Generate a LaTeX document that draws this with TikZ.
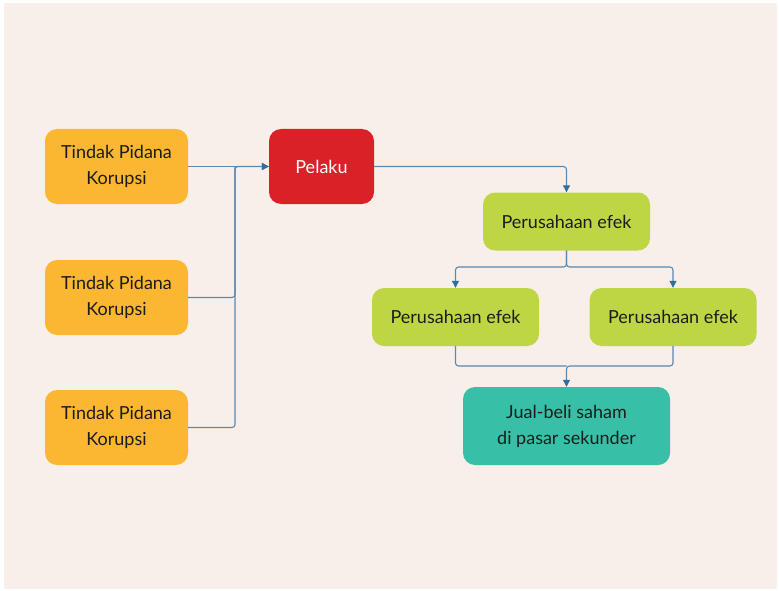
\documentclass[tikz,border=0pt]{standalone}
\usepackage{fontspec}
\setmainfont{Lato}
\usetikzlibrary{arrows.meta}
\definecolor{pagebg}{HTML}{F9EFEA}
\definecolor{boxorange}{HTML}{FBB731}
\definecolor{boxred}{HTML}{DA2128}
\definecolor{boxgreen}{HTML}{BED644}
\definecolor{boxteal}{HTML}{37BFA7}
\definecolor{linkblue}{HTML}{5B88AD}
\definecolor{tipblue}{HTML}{2F6E9E}
\definecolor{txt}{HTML}{1C1C1C}
\tikzset{
  box/.style={rectangle, rounded corners=12pt, align=center, text=txt,
    font=\fontsize{18}{26}\selectfont, inner sep=0pt},
  crime/.style={box, fill=boxorange, minimum width=143pt, minimum height=75pt},
  actor/.style={box, fill=boxred, text=white, minimum width=105pt, minimum height=75pt},
  firm/.style={box, fill=boxgreen, minimum width=167pt, minimum height=58pt},
  market/.style={box, fill=boxteal, minimum width=207pt, minimum height=78pt},
  link/.style={draw=linkblue, line width=1.1pt, rounded corners=3pt},
  arrowlink/.style={link, -{Triangle[length=7pt,width=7pt,fill=tipblue,color=tipblue]}}
}
\begin{document}
\begin{tikzpicture}[x=1pt,y=-1pt]
\useasboundingbox (0,0) rectangle (779,591);
\fill[white] (0,0) rectangle (779,591);
\fill[pagebg] (4,3) rectangle (777,589);

% left column: offences
\node[crime] (t1) at (116.5,166.5) {Tindak Pidana\\Korupsi};
\node[crime] (t2) at (116.5,297.5) {Tindak Pidana\\Korupsi};
\node[crime] (t3) at (116.5,427.5) {Tindak Pidana\\Korupsi};

% perpetrator
\node[actor] (p) at (321.5,166.5) {Pelaku};

% securities companies
\node[firm] (e)  at (566.5,221.5) {Perusahaan efek};
\node[firm] (el) at (455.5,317) {Perusahaan efek};
\node[firm] (er) at (673,317) {Perusahaan efek};

% secondary market trading
\node[market] (m) at (566.5,426) {Jual-beli saham\\di pasar sekunder};

% junction points
\coordinate (jin) at (235,166.5);
\coordinate (jsplit) at (566.5,267);
\coordinate (jmerge) at (566.5,366);

% offences to perpetrator
\draw[arrowlink] (t1.east) -- (p.west);
\draw[link] (t2.east) -| (jin);
\draw[arrowlink] (t3.east) -| (jin) -- (p.west);

% perpetrator to company
\draw[arrowlink] (p.east) -| (e.north);

% company splits into two
\draw[arrowlink] (e.south) -- (jsplit) -| (el.north);
\draw[arrowlink] (e.south) -- (jsplit) -| (er.north);

% both feed the market
\draw[link] (el.south) |- (jmerge);
\draw[arrowlink] (er.south) |- (jmerge) -- (m.north);
\end{tikzpicture}
\end{document}
